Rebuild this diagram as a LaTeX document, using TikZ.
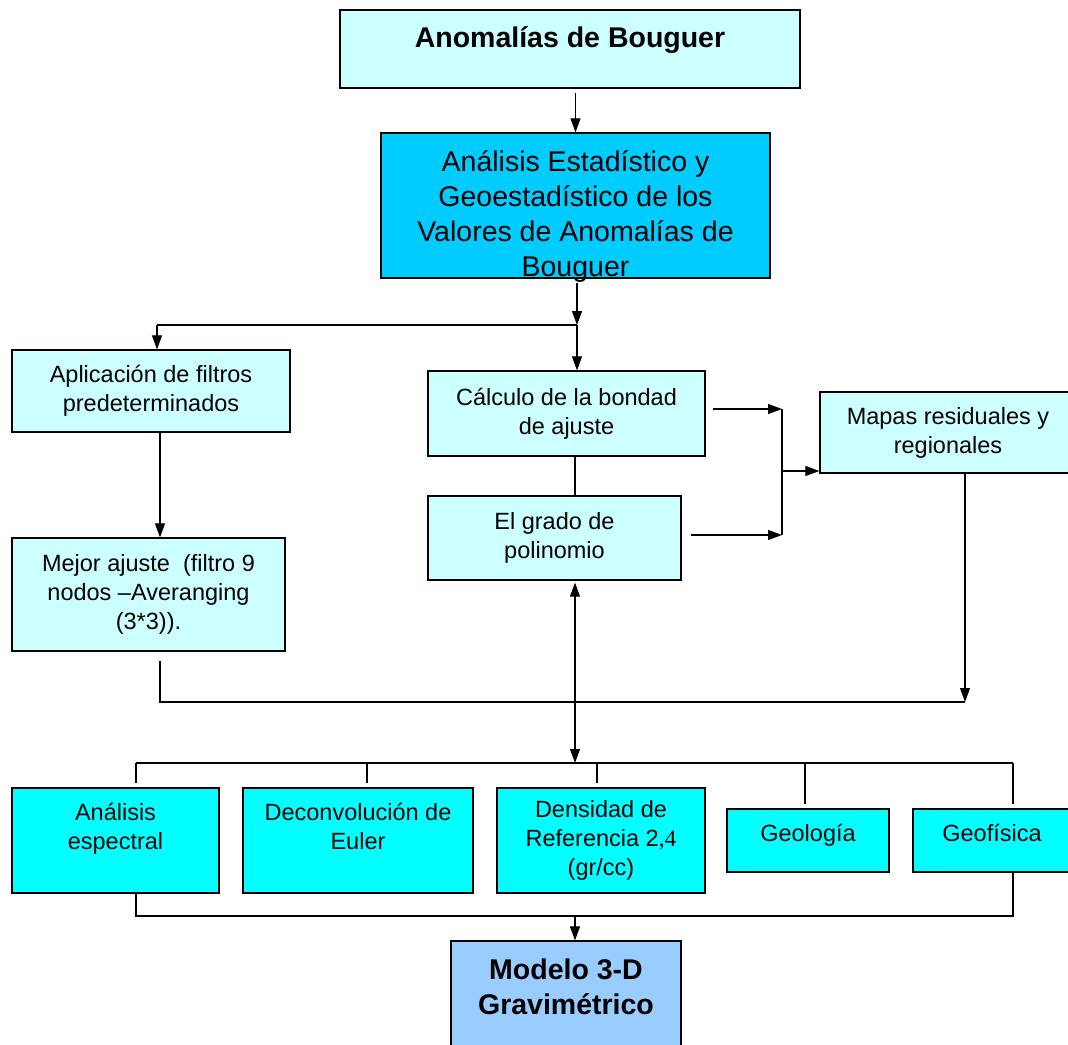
\documentclass[tikz,border=0pt]{standalone}
\usepackage{fontspec}
\setmainfont{Liberation Sans}
\newfontfamily\serifnum{Liberation Serif}
\usetikzlibrary{arrows.meta,calc}
\definecolor{lc}{HTML}{CCFFFF}
\definecolor{bc}{HTML}{00CCFF}
\definecolor{cc}{HTML}{00FFFF}
\definecolor{mc}{HTML}{99CCFF}
\tikzset{
  box/.style={draw=black, line width=1.3pt, align=center, inner sep=2pt,
    font=\fontsize{23.5}{29}\selectfont},
  arr/.style={-{Triangle[length=14pt,width=10pt]}, line width=1.1pt},
  arrboth/.style={{Triangle[length=14pt,width=10pt]}-{Triangle[length=14pt,width=10pt]}, line width=1.1pt},
  ln/.style={line width=1.1pt},
}
\begin{document}
\begin{tikzpicture}[x=1pt,y=-1pt]
\useasboundingbox (0,0) rectangle (1068,1044);
\fill[white] (0,0) rectangle (1068,1044);
% boxes
\node[box, fill=lc, minimum width=460, minimum height=78,
  font=\bfseries\fontsize{28.5}{32}\selectfont] (top) at (570,49)
  {Anomalías de Bouguer\\[-8pt]\mbox{}};
\node[box, fill=bc, minimum width=389, minimum height=145,
  text height=141pt, text depth=0pt,
  font=\fontsize{28.5}{35}\selectfont] (stat) at (575.5,205.5)
  {Análisis Estadístico y\\Geoestadístico de los\\Valores de Anomalías de\\Bouguer};
\node[box, fill=lc, minimum width=278, minimum height=82] (apl) at (151,391)
  {Aplicación de filtros\\predeterminados};
\node[box, fill=lc, minimum width=273, minimum height=113] (mej) at (148.5,594.5)
  {Mejor ajuste~ (filtro 9\\nodos –Averanging\\(3*3)).};
\node[box, fill=lc, minimum width=277, minimum height=85] (calc) at (566.5,413.5)
  {Cálculo de la bondad\\de ajuste};
\node[box, fill=lc, minimum width=253, minimum height=84] (grado) at (554.5,538)
  {El grado de\\polinomio};
\node[box, fill=lc, minimum width=256, minimum height=81] (mapas) at (948,432.5)
  {Mapas residuales y\\regionales};
\node[box, fill=cc, minimum width=207, minimum height=105] (ana) at (115.5,840.5)
  {Análisis\\espectral\\\mbox{}};
\node[box, fill=cc, minimum width=230, minimum height=105] (dec) at (358,840.5)
  {Deconvolución de\\Euler\\\mbox{}};
\node[box, fill=cc, minimum width=208, minimum height=105] (den) at (601,840.5)
  {Densidad de\\Referencia 2{\serifnum ,4}\\(gr/cc)};
\node[box, fill=cc, minimum width=162, minimum height=63] (geol) at (808,840.5)
  {Geología\\[-14pt]\mbox{}};
\node[box, fill=cc, minimum width=158, minimum height=63] (geof) at (992,840.5)
  {Geofísica\\[-14pt]\mbox{}};
\node[box, fill=mc, minimum width=230, minimum height=109,
  font=\bfseries\fontsize{28.5}{35}\selectfont] (mod) at (566,995.5)
  {Modelo 3-D\\Gravimétrico\\[-18pt]\mbox{}};
% junction coordinates
\coordinate (j1) at (577,325);
\coordinate (jA) at (157,325);
\coordinate (jL) at (160,702);
\coordinate (j2) at (965,702);
\coordinate (bt) at (782,409);
\coordinate (bb) at (782,535);
\coordinate (bm) at (782,471);
\coordinate (j3) at (575,763);
\coordinate (b1) at (136,763);
\coordinate (b2) at (367,763);
\coordinate (b3) at (597,763);
\coordinate (b4) at (805,763);
\coordinate (b5) at (1013,763);
\coordinate (c1) at (136,916);
\coordinate (c3) at (575,916);
\coordinate (c5) at (1013,916);
% connectors
\draw[arr] ($(top.south -| stat.north)+(0,4)$) -- (stat.north);
\draw[arr] ($(stat.south -| j1)+(0,4)$) -- (j1);
\draw[ln] (jA) -- (j1);
\draw[arr] (jA) -- (jA |- apl.north);
\draw[arr] (j1) -- (j1 |- calc.north);
\draw[arr] (apl.south -| jL) -- (jL |- mej.north);
\draw[ln] ($(mej.south -| jL)+(0,9)$) -- (jL) -- (j2);
\draw[ln] (calc.south -| j3) -- (grado.north -| j3);
\draw[arr] ($(bt -| calc.east)+(7,0)$) -- (bt);
\draw[arr] ($(bb -| grado.east)+(9,0)$) -- (bb);
\draw[ln] (bt) -- (bb);
\draw[arr] (bm) -- (bm -| mapas.west);
\draw[arr] (mapas.south -| j2) -- (j2);
\draw[arrboth] ($(grado.south -| j3)+(0,2)$) -- (j3);
\draw[ln] (b1) -- (b5);
\draw[ln] (b1) -- ($(b1 |- ana.north)+(0,-4)$);
\draw[ln] (b2) -- ($(b2 |- dec.north)+(0,-4)$);
\draw[ln] (b3) -- ($(b3 |- den.north)+(0,-4)$);
\draw[ln] (b4) -- ($(b4 |- geol.north)+(0,-4)$);
\draw[ln] (b5) -- ($(b5 |- geof.north)+(0,-4)$);
\draw[ln] (ana.south -| c1) -- (c1) -- (c5) -- (c5 |- geof.south);
\draw[arr] (c3) -- (c3 |- mod.north);
\end{tikzpicture}
\end{document}
